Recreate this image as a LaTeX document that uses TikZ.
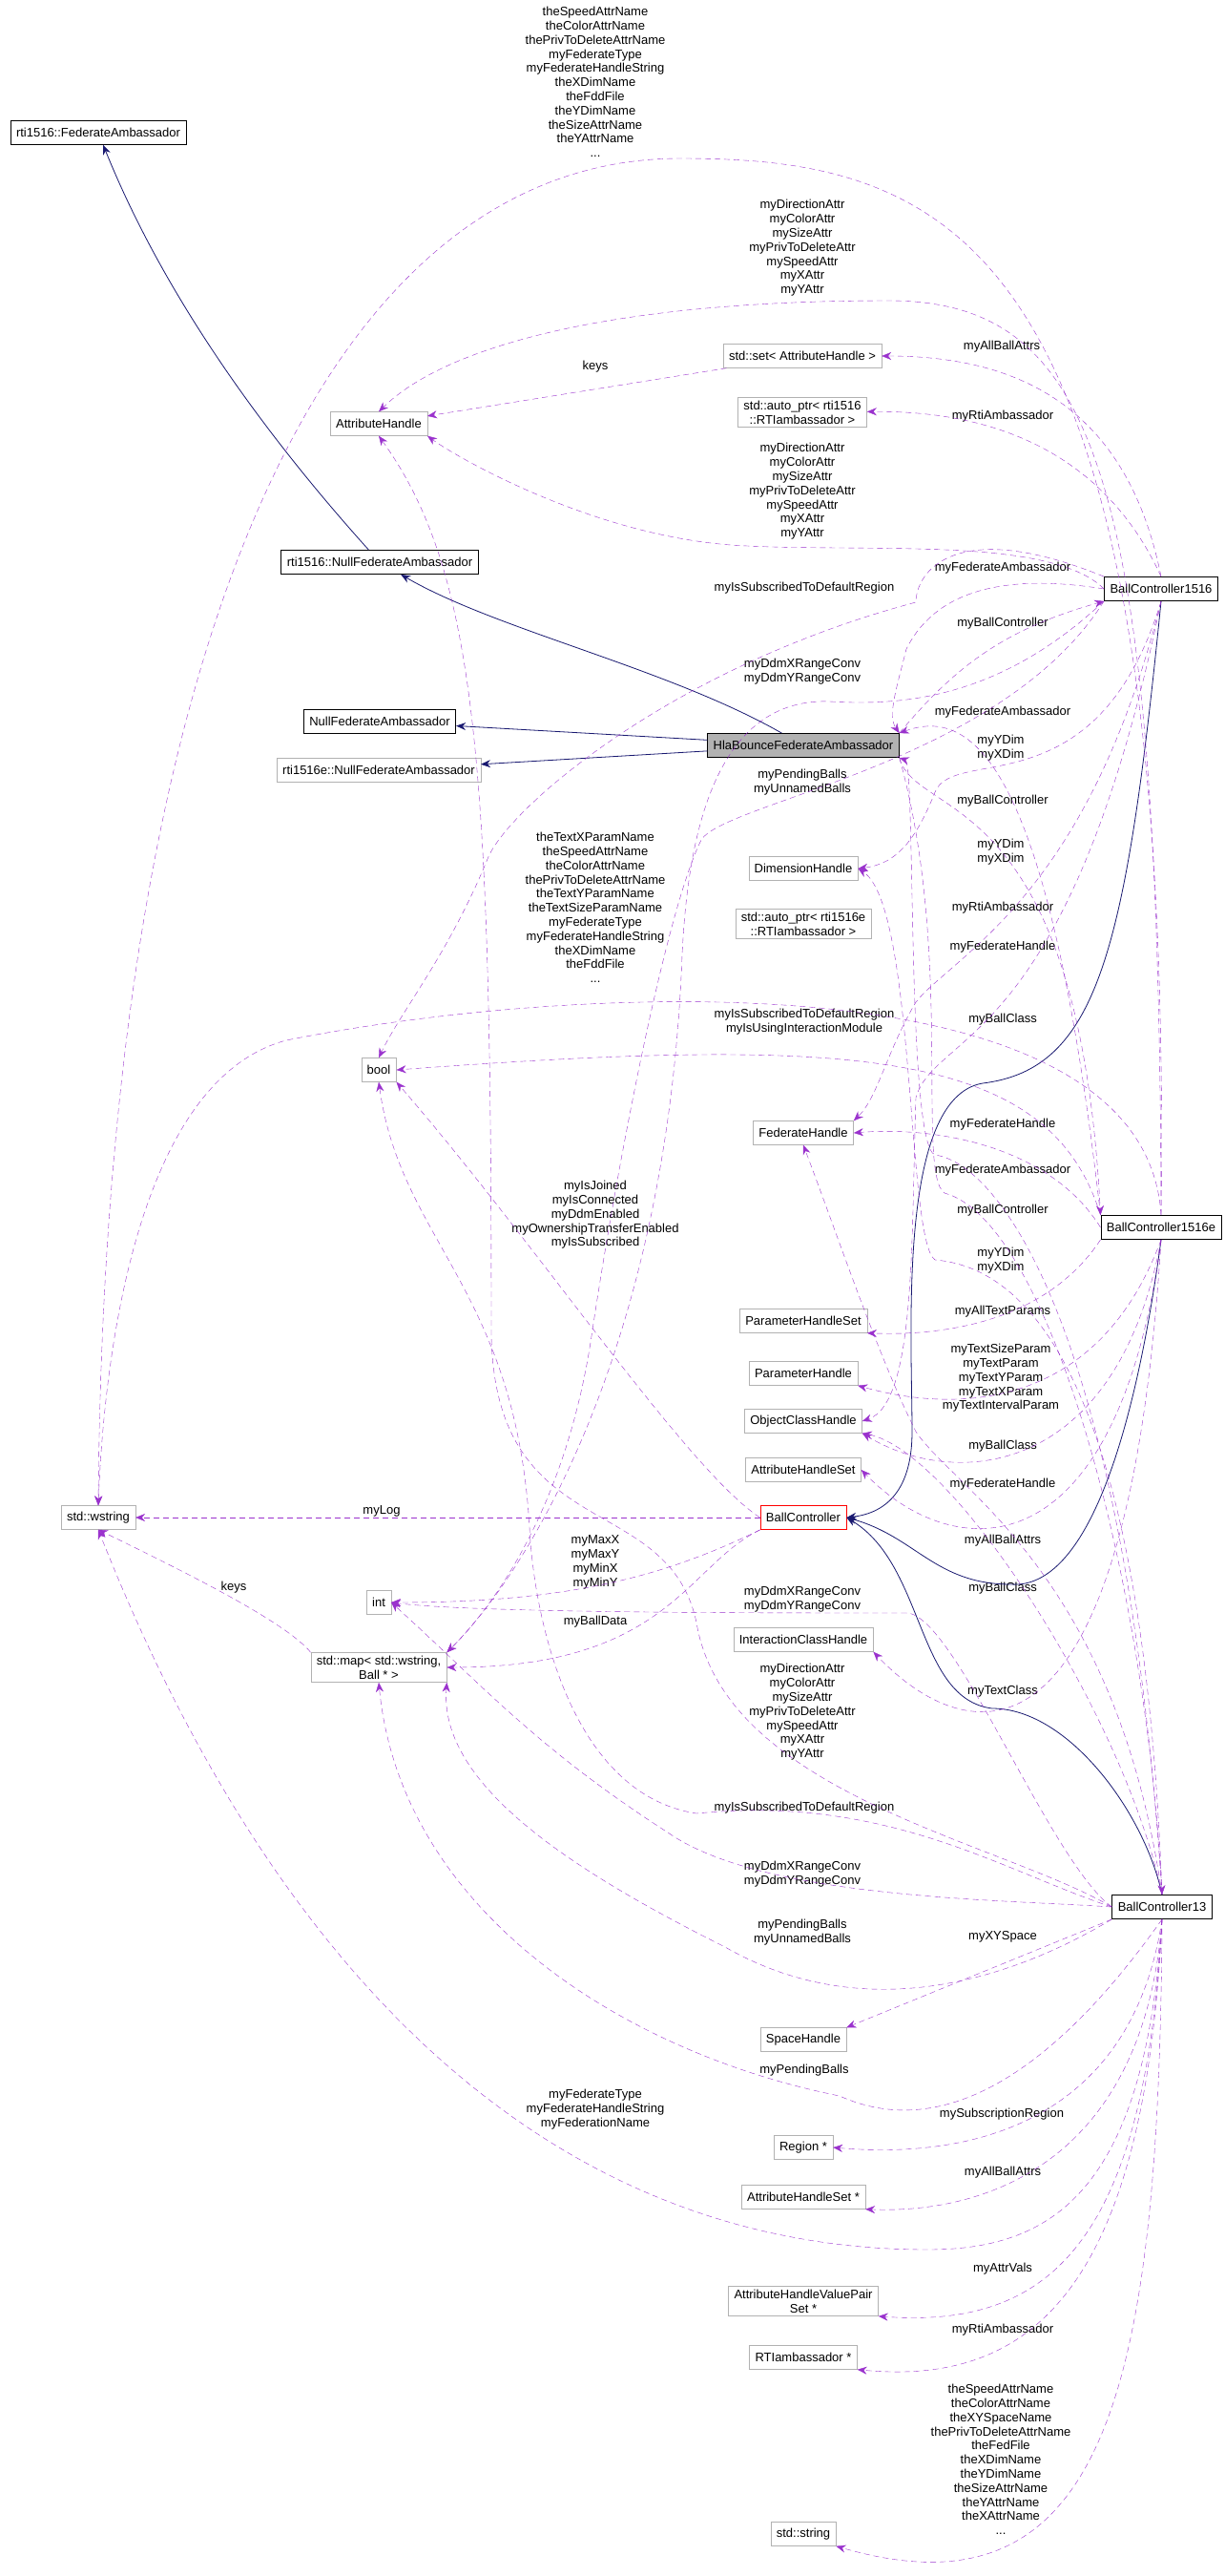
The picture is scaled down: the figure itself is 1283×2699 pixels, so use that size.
\documentclass[tikz,border=0pt]{standalone}
\usepackage{fontspec}
\setmainfont{Liberation Sans}
\usetikzlibrary{arrows.meta}
\definecolor{usecol}{RGB}{154,50,205}
\definecolor{inhcol}{RGB}{25,25,112}
\tikzset{
  cls/.style={draw=black!30, fill=white, inner xsep=6pt, minimum height=25pt, align=center,
    font=\fontsize{13}{15}\selectfont},
  blk/.style={cls, draw=black, thick},
  lbl/.style={align=center, inner sep=0pt, font=\fontsize{13}{14.8}\selectfont},
  use/.style={draw=usecol, dash pattern=on 6pt off 4pt, -{Stealth[length=10pt,width=8pt]}},
  inh/.style={draw=inhcol, thick, -{Stealth[length=10pt,width=8pt]}}
}
\begin{document}
\begin{tikzpicture}[x=1pt,y=-1pt]
\useasboundingbox (0,0) rectangle (1283,2699);
% classes
\node[blk] (fedamb) at (103,139) {rti1516::FederateAmbassador};
\node[cls] (ah) at (397,444) {AttributeHandle};
\node[cls] (setah) at (841,373) {std::set< AttributeHandle >};
\node[cls] (aprti) at (841,432) {std::auto\_ptr< rti1516\\::RTIambassador >};
\node[blk] (nullfa) at (398,589) {rti1516::NullFederateAmbassador};
\node[blk] (bc1516) at (1217,617) {BallController1516};
\node[blk] (nullfa2) at (398,756) {NullFederateAmbassador};
\node[blk, fill=black!30] (hla) at (842,781) {HlaBounceFederateAmbassador};
\node[cls] (nullfae) at (397,807) {rti1516e::NullFederateAmbassador};
\node[cls] (dim) at (842,910) {DimensionHandle};
\node[cls] (aprtie) at (842,968) {std::auto\_ptr< rti1516e\\::RTIambassador >};
\node[cls] (bool) at (397,1121) {bool};
\node[cls] (fh) at (842,1187) {FederateHandle};
\node[blk] (bc1516e) at (1217,1286) {BallController1516e};
\node[cls] (phs) at (842,1384) {ParameterHandleSet};
\node[cls] (ph) at (842,1439) {ParameterHandle};
\node[cls] (och) at (842,1489) {ObjectClassHandle};
\node[cls] (ahs) at (842,1540) {AttributeHandleSet};
\node[cls] (wstr) at (103,1590) {std::wstring};
\node[blk, draw=red] (bc) at (842,1590) {BallController};
\node[cls] (int) at (397,1679) {int};
\node[cls] (map) at (397,1747) {std::map< std::wstring,\\Ball * >};
\node[cls] (ich) at (842,1718) {InteractionClassHandle};
\node[blk] (bc13) at (1218,1998) {BallController13};
\node[cls] (sh) at (842,2137) {SpaceHandle};
\node[cls] (reg) at (842,2250) {Region *};
\node[cls] (ahsp) at (842,2302) {AttributeHandleSet *};
\node[cls] (ahvp) at (842,2411) {AttributeHandleValuePair\\Set *};
\node[cls] (rtia) at (842,2470) {RTIambassador *};
\node[cls] (str) at (842,2655) {std::string};
% labels
\node[lbl] (l-names) at (624,86) {theSpeedAttrName\\theColorAttrName\\thePrivToDeleteAttrName\\myFederateType\\myFederateHandleString\\theXDimName\\theFddFile\\theYDimName\\theSizeAttrName\\theYAttrName\\...};
\node[lbl] (l-attrs) at (841,260) {myDirectionAttr\\myColorAttr\\mySizeAttr\\myPrivToDeleteAttr\\mySpeedAttr\\myXAttr\\myYAttr};
\node[lbl] (l-keys) at (624,384) {keys};
\node[lbl] (l-aba) at (1050,363) {myAllBallAttrs};
\node[lbl] (l-rti) at (1051,436) {myRtiAmbassador};
\node[lbl] (l-attrs2) at (841,515) {myDirectionAttr\\myColorAttr\\mySizeAttr\\myPrivToDeleteAttr\\mySpeedAttr\\myXAttr\\myYAttr};
\node[lbl] (l-fa) at (1051,595) {myFederateAmbassador};
\node[lbl] (l-sub) at (843,616) {myIsSubscribedToDefaultRegion};
\node[lbl] (l-bc) at (1051,653) {myBallController};
\node[lbl] (l-ddm) at (841,704) {myDdmXRangeConv\\myDdmYRangeConv};
\node[lbl] (l-fa2) at (1051,746) {myFederateAmbassador};
\node[lbl] (l-dim) at (1049,784) {myYDim\\myXDim};
\node[lbl] (l-pend) at (841,820) {myPendingBalls\\myUnnamedBalls};
\node[lbl] (l-bc2) at (1051,839) {myBallController};
\node[lbl] (l-dim2) at (1049,893) {myYDim\\myXDim};
\node[lbl] (l-names2) at (624,951) {theTextXParamName\\theSpeedAttrName\\theColorAttrName\\thePrivToDeleteAttrName\\theTextYParamName\\theTextSizeParamName\\myFederateType\\myFederateHandleString\\theXDimName\\theFddFile\\...};
\node[lbl] (l-rti2) at (1051,951) {myRtiAmbassador};
\node[lbl] (l-fh) at (1051,992) {myFederateHandle};
\node[lbl] (l-sub2) at (843,1071) {myIsSubscribedToDefaultRegion\\myIsUsingInteractionModule};
\node[lbl] (l-bcl) at (1051,1068) {myBallClass};
\node[lbl] (l-fh2) at (1051,1178) {myFederateHandle};
\node[lbl] (l-fa3) at (1051,1226) {myFederateAmbassador};
\node[lbl] (l-flags) at (624,1273) {myIsJoined\\myIsConnected\\myDdmEnabled\\myOwnershipTransferEnabled\\myIsSubscribed};
\node[lbl] (l-bc3) at (1051,1268) {myBallController};
\node[lbl] (l-dim3) at (1049,1321) {myYDim\\myXDim};
\node[lbl] (l-atp) at (1051,1374) {myAllTextParams};
\node[lbl] (l-tp) at (1049,1444) {myTextSizeParam\\myTextParam\\myTextYParam\\myTextXParam\\myTextIntervalParam};
\node[lbl] (l-bcl2) at (1051,1515) {myBallClass};
\node[lbl] (l-fh3) at (1051,1555) {myFederateHandle};
\node[lbl] (l-log) at (400,1583) {myLog};
\node[lbl] (l-aba2) at (1051,1614) {myAllBallAttrs};
\node[lbl] (l-minmax) at (624,1637) {myMaxX\\myMaxY\\myMinX\\myMinY};
\node[lbl] (l-keys2) at (245,1663) {keys};
\node[lbl] (l-bcl3) at (1051,1664) {myBallClass};
\node[lbl] (l-ddm2) at (841,1676) {myDdmXRangeConv\\myDdmYRangeConv};
\node[lbl] (l-data) at (624,1699) {myBallData};
\node[lbl] (l-tc) at (1051,1772) {myTextClass};
\node[lbl] (l-attrs3) at (841,1794) {myDirectionAttr\\myColorAttr\\mySizeAttr\\myPrivToDeleteAttr\\mySpeedAttr\\myXAttr\\myYAttr};
\node[lbl] (l-sub3) at (843,1894) {myIsSubscribedToDefaultRegion};
\node[lbl] (l-ddm3) at (841,1964) {myDdmXRangeConv\\myDdmYRangeConv};
\node[lbl] (l-pend2) at (841,2025) {myPendingBalls\\myUnnamedBalls};
\node[lbl] (l-xy) at (1051,2029) {myXYSpace};
\node[lbl] (l-pend3) at (843,2169) {myPendingBalls};
\node[lbl] (l-fed) at (624,2210) {myFederateType\\myFederateHandleString\\myFederationName};
\node[lbl] (l-reg) at (1050,2215) {mySubscriptionRegion};
\node[lbl] (l-aba3) at (1051,2276) {myAllBallAttrs};
\node[lbl] (l-av) at (1051,2377) {myAttrVals};
\node[lbl] (l-rti3) at (1051,2441) {myRtiAmbassador};
\node[lbl] (l-names3) at (1049,2577) {theSpeedAttrName\\theColorAttrName\\theXYSpaceName\\thePrivToDeleteAttrName\\theFedFile\\theXDimName\\theYDimName\\theSizeAttrName\\theYAttrName\\theXAttrName\\...};
% inheritance
\draw[inh] (nullfa) .. controls (300,480) and (180,330) .. (fedamb);
\draw[inh] (hla) .. controls (700,700) and (520,660) .. (nullfa);
\draw[inh] (hla) -- (nullfa2);
\draw[inh] (hla) -- (nullfae);
\draw[inh] (bc1516.south) .. controls (1180,1000) and (1150,1120) .. (1030,1135) .. controls (940,1150) and (956,1400) .. (956,1500) .. controls (956,1560) and (930,1585) .. (bc.east);
\draw[inh] (bc1516e.south) .. controls (1190,1500) and (1140,1665) .. (1060,1660) .. controls (980,1660) and (960,1610) .. (bc.east);
\draw[inh] (bc13.north) .. controls (1200,1900) and (1120,1790) .. (1040,1790) .. controls (960,1780) and (970,1640) .. (bc.east);
% bc1516 members
\draw[use] (bc1516e.north) .. controls (1230,250) and (1000,166) .. (713,166) .. controls (330,166) and (110,700) .. (wstr.north);
\draw[use] (bc1516e.north) .. controls (1215,500) and (1150,315) .. (931,315) .. controls (650,315) and (470,360) .. (ah.north);
\draw[use] (setah) -- (ah);
\draw[use] (bc1516.north) .. controls (1180,420) and (1060,373) .. (setah);
\draw[use] (bc1516.north) .. controls (1160,480) and (1050,430) .. (aprti);
\draw[use] (bc1516.west) .. controls (1100,560) and (900,580) .. (766,571) .. controls (620,560) and (480,480) .. (ah.south east);
\draw[use] (bc1516.north west) .. controls (1000,540) and (960,600) .. (960,631) .. controls (700,700) and (530,850) .. (511,900) .. controls (470,1000) and (420,1060) .. (bool.north);
\draw[use] (hla.north east) .. controls (1000,700) and (1050,660) .. (bc1516.south west);
\draw[use] (bc1516.west) .. controls (1050,600) and (980,620) .. (950,680) .. controls (940,720) and (930,750) .. (hla.north east);
\draw[use] (bc1516.south west) .. controls (1050,730) and (950,740) .. (870,735) .. controls (740,730) and (720,900) .. (715,1000) .. controls (700,1400) and (560,1640) .. (map.north east);
\draw[use] (bc1516e.north west) .. controls (1100,800) and (1020,740) .. (hla.north east);
\draw[use] (bc1516.south) .. controls (1150,850) and (1000,780) .. (980,830) .. controls (960,880) and (940,905) .. (dim.east);
\draw[use] (bc1516.south west) .. controls (1050,800) and (760,840) .. (735,880) .. controls (700,950) and (650,1200) .. (620,1400) .. controls (590,1600) and (500,1700) .. (map.north east);
\draw[use] (hla.south east) .. controls (960,860) and (1130,820) .. (bc1516e.north west);
\draw[use] (bc1516e.north) .. controls (1200,1000) and (600,1030) .. (300,1090) .. controls (150,1130) and (110,1400) .. (wstr.north);
\draw[use] (bc1516.south) .. controls (1140,940) and (1000,1000) .. (960,1050) .. controls (930,1100) and (920,1150) .. (fh.north east);
\draw[use] (bc1516e.north west) .. controls (1100,1100) and (900,1085) .. (bool.east);
\draw[use] (bc1516.south) .. controls (1120,1100) and (980,1080) .. (960,1150) .. controls (955,1300) and (960,1470) .. (och.east);
\draw[use] (bc1516e.west) .. controls (1100,1200) and (980,1180) .. (fh.east);
\draw[use] (bc.west) .. controls (720,1540) and (560,1300) .. (bool.south east);
\draw[use] (bc13.north) .. controls (1180,1400) and (1050,1220) .. (980,1210) .. controls (950,1200) and (960,800) .. (hla.south east);
\draw[use] (hla.south east) .. controls (1000,1000) and (960,1230) .. (990,1250) .. controls (1100,1280) and (1200,1650) .. (bc13.north);
\draw[use] (bc13.north) .. controls (1200,1500) and (1100,1330) .. (980,1320) .. controls (950,1300) and (960,950) .. (dim.east);
\draw[use] (bc1516e.south west) .. controls (1100,1380) and (1000,1400) .. (phs.south east);
\draw[use] (bc1516e.south) .. controls (1150,1480) and (1000,1480) .. (ph.south east);
\draw[use] (bc1516e.south) .. controls (1170,1550) and (1000,1560) .. (och.south east);
\draw[use] (bc13.north) .. controls (1170,1650) and (1000,1560) .. (960,1500) .. controls (920,1420) and (880,1300) .. (fh.south);
\draw[use] (bc) -- (wstr);
\draw[use] (bc1516e.south) .. controls (1170,1650) and (1000,1640) .. (ahs.east);
\draw[use] (bc.south west) .. controls (700,1650) and (600,1679) .. (int.east);
\draw[use] (map.north west) .. controls (300,1700) and (200,1650) .. (wstr.south);
\draw[use] (bc13.north) .. controls (1180,1800) and (1000,1520) .. (och.south east);
\draw[use] (bc13.west) .. controls (1100,1950) and (1000,1690) .. (950,1690) .. controls (800,1690) and (500,1690) .. (int.east);
\draw[use] (bc.south west) .. controls (720,1640) and (700,1747) .. (map.east);
\draw[use] (bc1516e.south) .. controls (1180,1900) and (1000,1820) .. (ich.south east);
\draw[use] (bc13.west) .. controls (1050,1930) and (760,1880) .. (730,1700) .. controls (700,1560) and (520,1620) .. (515,1400) .. controls (515,800) and (500,600) .. (ah.south);
\draw[use] (bc13.west) .. controls (1050,1960) and (930,1880) .. (730,1900) .. controls (600,1880) and (560,1700) .. (555,1600) .. controls (540,1350) and (420,1300) .. (bool.south);
\draw[use] (bc13.west) .. controls (1050,1990) and (800,1990) .. (700,1920) .. controls (560,1830) and (500,1760) .. (int.east);
\draw[use] (bc13.south west) .. controls (1050,2080) and (900,2120) .. (760,2040) .. controls (600,1960) and (460,1870) .. (map.south east);
\draw[use] (bc13.south west) -- (sh.north east);
\draw[use] (bc13.south) .. controls (1120,2150) and (1000,2250) .. (880,2196) .. controls (650,2150) and (420,2000) .. (map.south);
\draw[use] (bc13.south) .. controls (1200,2300) and (1100,2357) .. (972,2357) .. controls (600,2357) and (300,2100) .. (wstr.south);
\draw[use] (bc13.south) .. controls (1190,2200) and (1050,2265) .. (reg.east);
\draw[use] (bc13.south) .. controls (1200,2250) and (1050,2320) .. (ahsp.south east);
\draw[use] (bc13.south) .. controls (1200,2350) and (1100,2440) .. (ahvp.south east);
\draw[use] (bc13.south) .. controls (1200,2400) and (1080,2500) .. (rtia.south east);
\draw[use] (bc13.south) .. controls (1215,2500) and (1160,2750) .. (str.south east);
\end{tikzpicture}
\end{document}
